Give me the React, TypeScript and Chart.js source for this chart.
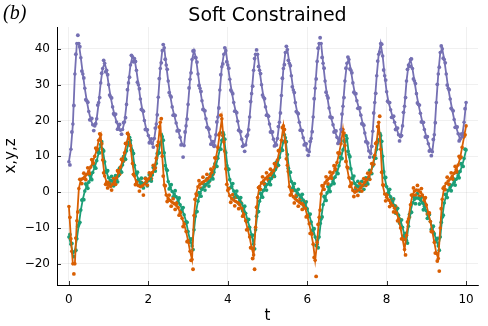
import { useEffect, useRef } from "react";
import { Chart, registerables } from "chart.js";
Chart.register(...registerables);

const xTicks = [0, 2, 4, 6, 8, 10];
const yTicks = [-20, -10, 0, 10, 20, 30, 40];

// smooth model curves, sampled every 0.05 in t from 0 to 10
const zLine = [
  8.5, 12, 19, 33, 41.5, 41.5, 37.5, 33, 29, 25.5,
  22.5, 20.2, 18.8, 18.5, 20.5, 25, 30.5, 34.5, 36, 34,
  30, 26.6, 23.8, 21.5, 19.6, 18.2, 17.3, 17.5, 19.6, 24.5,
  30.5, 35.5, 37.8, 37.3, 34, 30, 26, 22.9, 20, 17.5,
  15.8, 14.2, 13.5, 15, 19, 26.5, 34.5, 39.5, 40.3, 35.5,
  31, 27, 23.8, 21.5, 19.3, 17.3, 15.3, 13.3, 13, 18.5,
  24.5, 31.5, 37, 39.5, 37.5, 33, 29, 25.5, 22.9, 20.5,
  18, 15.5, 13.5, 12.8, 16, 21, 28.5, 35, 38.5, 39.5,
  35.5, 31.5, 28, 25, 22.5, 19.8, 17, 14.8, 13, 13.2,
  16, 21, 27.5, 34, 38.5, 38.5, 34, 30, 26.5, 23.8,
  21.5, 19, 16.8, 14.8, 13.2, 15, 19.5, 27, 34.5, 39,
  39.8, 36, 32.5, 28.5, 25, 22.2, 19.5, 17.3, 15.2, 13.5,
  11.8, 11.3, 15, 21, 29, 36.5, 41.5, 41.5, 36, 31,
  27, 23.5, 20.8, 18.8, 17, 15.3, 14.2, 17.5, 24, 31,
  36, 37, 34, 30.5, 27.5, 25.5, 23.5, 21.5, 19, 16.5,
  14, 11.5, 10.8, 17, 25, 32.5, 38.5, 41.5, 38, 32.5,
  28, 25, 23, 21, 19.5, 17.8, 16, 15.5, 18.5, 24,
  31, 35.5, 37, 34.5, 31, 27.5, 24.5, 22, 19.5, 17.5,
  15.5, 13.5, 11.8, 11.3, 16, 25, 33, 39, 40, 37,
  33, 29, 26, 23, 20.3, 18.2, 16.3, 14.8, 15.5, 19.5,
  25,
];

const xLine = [
  -4, -13, -20, -20, -8, 1, 3.5, 3.8, 4.3, 5,
  5.8, 7, 8.5, 10, 11.8, 14.5, 16, 9, 4.5, 2.8,
  2, 1.6, 2.2, 3, 4, 5.5, 7, 8.8, 11, 13.5,
  16, 13, 8, 4.5, 2.5, 1.8, 1.5, 1.8, 2.3, 3,
  3.7, 4.5, 5.5, 6.5, 9.5, 14, 19.5, 10, 2, -0.8,
  -1.8, -2.3, -2.8, -3.2, -3.6, -4.3, -5.8, -7.3, -8.9, -11,
  -13.5, -16.5, -18.8, -6.5, -0.5, 1.5, 2.2, 2.6, 3, 3.3,
  3.8, 4.4, 5.5, 7, 9.5, 12.5, 16.5, 20.5, 14, 6.5,
  0.5, -1, -1.8, -2.2, -2.6, -2.9, -3.5, -4.5, -6.2, -8,
  -10.3, -12.5, -15.5, -17.5, -9.8, -1.5, 1.6, 2.6, 3.2, 3.8,
  4.3, 4.8, 5.3, 6, 7.3, 9, 11.5, 14.5, 18.5, 14,
  7.5, 1.5, -0.5, -1.3, -1.9, -2.3, -2.8, -3.2, -3.6, -4.5,
  -6.5, -8.8, -11.5, -14.5, -19, -14, -7, -0.5, 1.6, 2.6,
  3.3, 3.9, 4.6, 5.4, 6.6, 8.3, 10.8, 13.5, 17.5, 13,
  7, 4, 2, 0.5, 0, 0.3, 0.7, 1.3, 2, 2.8,
  3.5, 4.3, 5.5, 7.8, 10.3, 14, 19.5, 12, 2, -0.5,
  -1.4, -2.2, -3, -3.7, -4.5, -5.8, -7.5, -10, -13, -16,
  -12, -7.5, -3.5, -0.8, 0.3, 0.6, 0.5, 0, -0.8, -2,
  -3.6, -5.8, -8.2, -11, -14, -17, -18.5, -10, -2, 1.5,
  2.5, 3.1, 3.7, 4.4, 5.3, 6.3, 7.6, 9.5, 12.5, 15.5,
  18.5,
];

const yLine = [
  -12.5, -14.5, -17, -16.5, -13, -9, -5, -2, 0.3, 1.8,
  2.8, 4, 5.5, 7, 8.8, 11, 13.3, 12, 8.5, 5.5,
  4, 3.3, 3, 3.1, 3.6, 4.6, 6, 7.6, 9.4, 11.5,
  13.5, 14.5, 11.5, 7.5, 5, 3.6, 2.8, 2.4, 2.5, 2.8,
  3.2, 3.8, 4.8, 6.2, 8, 10.8, 13.5, 15.5, 11, 6.5,
  3, 1.3, 0.2, -0.5, -1.3, -2.2, -3.5, -4.8, -6.3, -8.2,
  -11, -13.5, -15, -10.5, -5.5, -2.5, -0.3, 0.8, 1.5, 2.1,
  2.6, 3.2, 4.2, 5.6, 7.4, 9.5, 12, 14.5, 16, 11,
  6.5, 3.5, 1.6, 0.3, -0.6, -1.3, -2.2, -3.2, -4.4, -5.9,
  -7.8, -9.8, -12, -14.5, -10.5, -5.5, -2.5, -0.8, 0.5, 1.5,
  2.2, 2.9, 3.8, 5, 6.3, 7.8, 9.7, 11.8, 14, 15.2,
  10.5, 5.5, 3, 1.5, 0.5, -0.2, -0.8, -1.4, -2.2, -3.2,
  -4.6, -6.3, -8.3, -10.3, -12.5, -14.5, -12.5, -7.5, -3.5, -1.6,
  -0.2, 0.9, 2, 3, 4.2, 5.4, 7.4, 9.5, 11.8, 14,
  15, 10.5, 6.5, 3.8, 2.4, 1.8, 1.5, 1.5, 1.8, 2.3,
  3, 4, 5.5, 7.3, 9.5, 12, 14.5, 15.8, 10, 4,
  1.5, 0, -1.3, -2.6, -3.8, -5, -6.4, -8, -9.8, -12,
  -13.5, -9.5, -5.5, -3, -2, -1.6, -1.7, -2.2, -3, -4,
  -5.2, -6.6, -8.2, -9.9, -11.6, -13.3, -15, -12.5, -7, -3,
  -0.8, 0.5, 1.3, 2, 2.8, 3.6, 4.6, 5.8, 7.4, 9.4,
  11.8,
];

// noisy observations, at t = 0.025, 0.075, ... 9.975
const zPts = [
  7.6, 16.8, 24.2, 38.5, 43.8, 40.6, 33.8, 31.9, 25.8, 25.1,
  20.2, 20.6, 17.2, 19.1, 24.3, 26.4, 33.2, 36.8, 33.6, 32.8,
  27.1, 26.3, 21.9, 21.8, 17.6, 18.9, 16.2, 19.4, 20.8, 28.6,
  32.1, 38.2, 36.4, 36.5, 30.7, 28.9, 23.1, 22.6, 17.5, 17.4,
  13.8, 14.9, 12.6, 17.9, 21.6, 31.7, 36.1, 41.2, 37.1, 34.3,
  27.8, 26.6, 21.5, 21.4, 17.1, 17.2, 13.2, 9.8, 16.8, 20.4,
  29.1, 33.3, 39.4, 37.6, 36.3, 29.8, 28.1, 23.1, 22.7, 18.1,
  17.6, 13.4, 14.1, 12.9, 19.6, 23.5, 32.8, 35.8, 40.3, 36.4,
  34.6, 28.5, 27.5, 22.6, 22.2, 17.3, 16.9, 12.8, 11.4, 15.6,
  17.4, 25.3, 29.6, 37.3, 39.7, 35.1, 33.1, 27.1, 26.1, 21.5,
  21.2, 16.8, 16.8, 12.9, 13.2, 18.3, 22.1, 31.8, 35.6, 40.7,
  36.8, 35.3, 29.4, 27.8, 22.5, 21.9, 17.3, 17.2, 13.2, 13.5,
  10.3, 14.2, 16.9, 26.1, 31.6, 40.2, 43.1, 37.6, 34.6, 27.9,
  26.3, 21, 20.8, 16.8, 17.1, 13.6, 14.8, 21.8, 26.4, 34.6,
  37.7, 34.4, 33.3, 27.9, 27.5, 23.4, 23.5, 19.1, 18.7, 14.1,
  13.7, 9.8, 12.8, 22.1, 27.6, 36.6, 39.1, 41.3, 34.1, 31.3,
  25.4, 25, 20.9, 21.2, 17.5, 17.9, 14.3, 15.8, 22.3, 26.4,
  34.3, 35.1, 37.2, 31.6, 30.3, 24.9, 24.3, 19.6, 19.5, 15.4,
  15.5, 11.5, 10.2, 14.7, 19.4, 30.1, 34.9, 40.8, 37.4, 36.1,
  29.9, 28.6, 23.4, 22.7, 18.1, 18.2, 14.3, 16.2, 16.4, 23.3,
];

const xPts = [
  -7, -16.5, -22.8, -12.8, -5.5, 3.6, 2.4, 5.3, 3.5, 6.8,
  5.2, 9.1, 8, 12.3, 12, 16.3, 13.5, 5.4, 2.2, 1.2,
  2.9, 0.6, 3.8, 2.2, 6, 5, 9.2, 8.7, 13.6, 16.4,
  13.2, 11.9, 5, 2.1, 3.2, 0.3, 2.7, -0.8, 3.8, 2,
  5.4, 3.8, 7.5, 6.8, 13, 18.2, 20.5, 4.5, 1.8, -2.6,
  -0.8, -3.9, -1.8, -4.8, -2.9, -6.4, -5.3, -9.6, -8.7, -13.8,
  -14, -19, -21.5, -2, -0.8, 3.2, 1.1, 4.2, 1.8, 5,
  2.9, 6.4, 5, 9.6, 9.8, 16, 21.5, 15.8, 11.5, 2.2,
  1, -2.8, -0.7, -3.8, -1.4, -4.6, -2.8, -6.7, -5.9, -10.5,
  -10.2, -15.5, -18.5, -21.5, -4.2, 1.3, 0.8, 4.3, 2.2, 5.4,
  3.3, 6.4, 4.4, 8, 7, 11.6, 11.8, 18, 17.5, 9.3,
  5.8, -0.8, 0.4, -3, -0.8, -3.9, -1.7, -4.8, -2.8, -6.9,
  -6.4, -11.5, -11.7, -18.2, -23.5, -9, -5, 1.8, 0.8, 4.3,
  2.3, 5.6, 3.8, 7.4, 6.2, 11, 10.9, 17, 16.5, 8.6,
  6.8, 1.6, 2.5, -1.2, 1.4, -0.9, 2.4, 0.3, 3.8, 1.9,
  5.3, 3.6, 8, 7.8, 13.6, 18.3, 21.2, 5.6, 2, -2.4,
  -0.5, -4, -2, -5.5, -3.9, -8, -7.5, -13, -13.2, -17.5,
  -8.3, -6.9, -0.8, 1.2, -0.8, 1.9, -1.1, 1, -2.7, -1.5,
  -6.1, -5.8, -11, -11.2, -17, -19.2, -22, -4.6, 1.1, 0.7,
  4.2, 2.1, 5.4, 3.6, 7.2, 5.7, 10, 9.8, 15.5, 16,
];

const yPts = [
  -11.8, -14.3, -18, -16.2, -9.5, -8.4, -2.2, -2.1, 2.3, 1.1,
  4.8, 3.5, 7.6, 6.7, 11.3, 11, 14.1, 11.5, 5.8, 6,
  2.4, 4.4, 1.8, 4.6, 2.9, 6.7, 5.6, 9.9, 9.2, 13.9,
  15.3, 11.7, 10.8, 5, 5.6, 2, 3.9, 1.2, 3.9, 1.8,
  4.9, 3.1, 6.9, 5.9, 10.8, 11, 16, 14.5, 7.4, 6.1,
  0.9, 2.1, -1.3, 0.4, -3, -1.6, -5.5, -4.3, -8.6, -8.4,
  -13.6, -13, -16, -6.7, -5.4, -0.1, -1.1, 2.5, 0.6, 3.7,
  1.7, 5.1, 3.7, 7.9, 7.2, 12.1, 12, 16.6, 14.8, 7.4,
  6.4, 1.3, 2.4, -1.4, 0.3, -3.1, -1.5, -5.2, -3.9, -8.2,
  -7.6, -12.3, -12, -15.8, -6.7, -5.4, -0.3, -1.4, 2.4, 0.6,
  3.9, 2.1, 5.8, 4.4, 8.4, 7.5, 12.1, 11.7, 16, 14.1,
  6.7, 5.6, 1, 2.4, -1.2, 0.8, -2.5, -0.6, -4.1, -2.7,
  -6.8, -6.1, -10.7, -10.2, -14.9, -15.5, -8.7, -6.9, -1.2, -2.3,
  1.6, 0.2, 3.9, 2.4, 6.2, 5.2, 9.8, 9.4, 14.3, 15.8,
  11.4, 9.9, 3.9, 4.5, 0.9, 3, 0.3, 3, 0.8, 4,
  2.3, 6.1, 5.2, 9.8, 9.5, 14.6, 16.4, 14.2, 5.7, 4.1,
  -0.5, 0.8, -3.3, -1.9, -5.8, -4.5, -8.6, -7.7, -12.3, -11.5,
  -14.2, -6.2, -5.6, -1.2, -3.2, -0.4, -3.3, -1.4, -4.9, -3.4,
  -7.3, -6.2, -10.4, -9.5, -13.8, -12.9, -16.2, -8.4, -6.4, -0.6,
  -1.5, 2.2, 0.4, 3.8, 2, 5.5, 4, 8, 7.2, 12,
];

const T_STEP = 0.05;
const tLine = zLine.map((_, i) => Math.round(i * T_STEP * 1000) / 1000);
const tPts = zPts.map((_, i) => Math.round((i * T_STEP + T_STEP / 2) * 1000) / 1000);

const PURPLE = "#7570b3";
const ORANGE = "#d95f02";
const GREEN = "#1b9e77";
const FONT = "'DejaVu Sans', sans-serif";

const toXY = (ts: number[], vs: number[]) => vs.map((v, i) => ({ x: ts[i], y: v }));

const decorPlugin = {
  id: "decor",
  afterDraw(chart: any) {
    const { ctx, chartArea } = chart;
    const xs = chart.scales.x;
    const ys = chart.scales.y;
    ctx.save();
    // inward tick marks
    ctx.strokeStyle = "rgba(0,0,0,0.8)";
    ctx.lineWidth = 1;
    ctx.beginPath();
    xTicks.forEach((v) => {
      const px = Math.round(xs.getPixelForValue(v)) + 0.5;
      ctx.moveTo(px, chartArea.bottom);
      ctx.lineTo(px, chartArea.bottom - 4);
    });
    yTicks.forEach((v) => {
      const py = Math.round(ys.getPixelForValue(v)) + 0.5;
      ctx.moveTo(chartArea.left, py);
      ctx.lineTo(chartArea.left + 4, py);
    });
    ctx.stroke();

    const cx = (chartArea.left + chartArea.right) / 2;
    const cy = (chartArea.top + chartArea.bottom) / 2;
    ctx.fillStyle = "#000";
    ctx.textAlign = "center";
    ctx.textBaseline = "alphabetic";
    ctx.font = `19px ${FONT}`;
    ctx.fillText("Soft Constrained", cx, 21);
    ctx.font = `15px ${FONT}`;
    ctx.fillText("t", cx, 320);
    ctx.save();
    ctx.translate(15, cy);
    ctx.rotate(-Math.PI / 2);
    ctx.fillText("x,y,z", 0, 0);
    ctx.restore();
    ctx.textAlign = "left";
    ctx.font = `italic 20px 'Liberation Serif', serif`;
    ctx.fillText("(b)", 3, 19);
    ctx.restore();
  },
};

export default function App() {
  const ref = useRef<HTMLCanvasElement | null>(null);
  useEffect(() => {
    document.body.style.margin = "0";
    const canvas = ref.current;
    if (!canvas) return;
    const lineDs = (label: string, vs: number[], color: string, order: number) => ({
      label,
      data: toXY(tLine, vs),
      showLine: true,
      borderColor: color,
      borderWidth: 1.8,
      pointRadius: 1.8,
      pointBackgroundColor: color,
      pointBorderWidth: 0,
      tension: 0,
      order,
    });
    const ptDs = (label: string, vs: number[], color: string, order: number) => ({
      label,
      data: toXY(tPts, vs),
      showLine: false,
      pointRadius: 1.9,
      backgroundColor: color,
      borderWidth: 0,
      order,
    });
    const chart = new Chart(canvas, {
      type: "scatter",
      data: {
        datasets: [
          lineDs("z", zLine, PURPLE, 0),
          lineDs("x", xLine, ORANGE, 1),
          lineDs("y", yLine, GREEN, 2),
          ptDs("z data", zPts, PURPLE, 3),
          ptDs("x data", xPts, ORANGE, 4),
          ptDs("y data", yPts, GREEN, 5),
        ] as any,
      },
      options: {
        animation: false,
        responsive: false,
        devicePixelRatio: 1,
        layout: { padding: { left: 0, top: 27, right: 10, bottom: 0 } },
        plugins: { legend: { display: false }, tooltip: { enabled: false }, title: { display: false } },
        scales: {
          x: {
            type: "linear",
            min: -0.3,
            max: 10.3,
            afterBuildTicks: (s: any) => {
              s.ticks = xTicks.map((v) => ({ value: v }));
            },
            afterFit: (s: any) => {
              s.height = 41;
            },
            grid: { color: "rgba(0,0,0,0.1)", lineWidth: 0.6, drawTicks: false },
            border: { display: true, color: "#000", width: 1 },
            ticks: { padding: 8, color: "#000", font: { family: FONT, size: 12 } },
          },
          y: {
            type: "linear",
            min: -25.9,
            max: 46.1,
            afterBuildTicks: (s: any) => {
              s.ticks = yTicks.map((v) => ({ value: v }));
            },
            afterFit: (s: any) => {
              s.width = 57;
            },
            grid: { color: "rgba(0,0,0,0.1)", lineWidth: 0.6, drawTicks: false },
            border: { display: true, color: "#000", width: 1 },
            ticks: {
              padding: 7,
              color: "#000",
              font: { family: FONT, size: 12 },
              callback: (v: any) => (Number(v) < 0 ? "\u2212" + Math.abs(Number(v)) : String(v)),
            },
          },
        },
      },
      plugins: [decorPlugin],
    });
    return () => chart.destroy();
  }, []);
  return (
    <div style={{ width: 488, height: 326 }}>
      <canvas ref={ref} width={488} height={326} style={{ display: "block" }} />
    </div>
  );
}
